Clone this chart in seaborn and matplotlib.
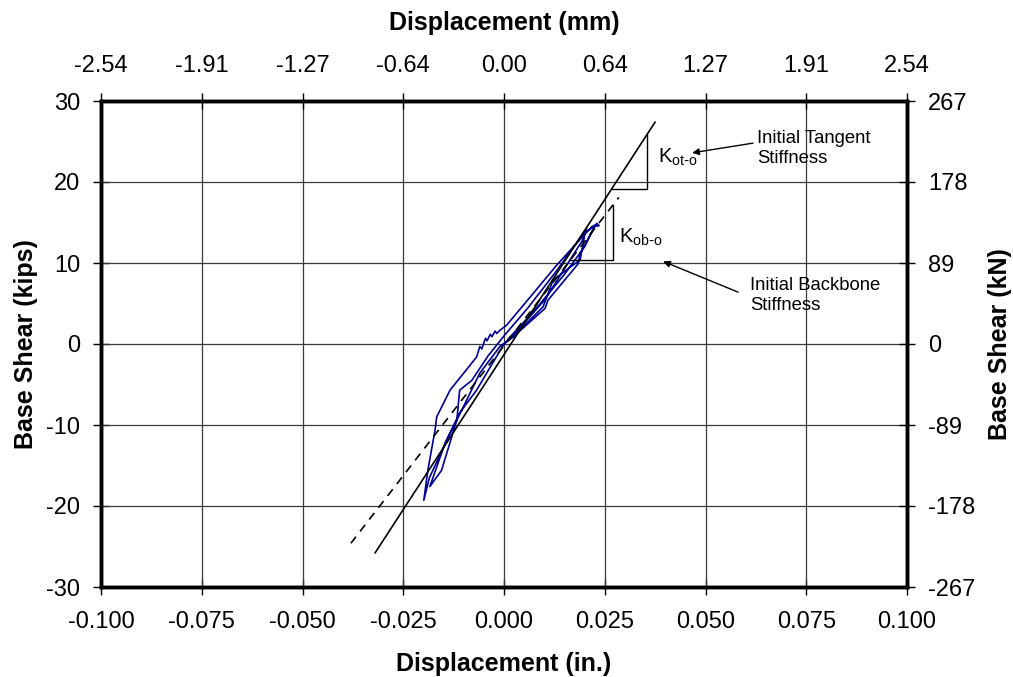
import numpy as np
import pandas as pd
import matplotlib
matplotlib.use("Agg")
import matplotlib.pyplot as plt
import seaborn as sns

# ---------------- data ----------------
x_ticks_in = [-0.100, -0.075, -0.050, -0.025, 0.000, 0.025, 0.050, 0.075, 0.100]
x_tick_labels_in = ["-0.100", "-0.075", "-0.050", "-0.025", "0.000", "0.025", "0.050", "0.075", "0.100"]
x_tick_labels_mm = ["-2.54", "-1.91", "-1.27", "-0.64", "0.00", "0.64", "1.27", "1.91", "2.54"]
y_ticks_kips = [-30, -20, -10, 0, 10, 20, 30]
y_tick_labels_kips = ["-30", "-20", "-10", "0", "10", "20", "30"]
y_tick_labels_kn = ["-267", "-178", "-89", "0", "89", "178", "267"]

# hysteresis loops (in., kips)
loop_disp = [
    0.0000, 0.0031, 0.0102, 0.0164, 0.0195, 0.0205,
    0.0180, 0.0130, 0.0060, 0.0000, -0.0040, -0.0080, -0.0110, -0.0117, -0.0155, -0.0184,
    -0.0146, -0.0110, -0.0068, -0.0030, 0.0000,
    0.0030, 0.0102, 0.0109, 0.0184, 0.0189, 0.0230, 0.0236, 0.0218,
    0.0131, 0.0065, 0.0007, -0.0010, -0.0018, -0.0022, -0.0030, -0.0034, -0.0042, -0.0046,
    -0.0055, -0.0060, -0.0068, -0.0100, -0.0134, -0.0167, -0.0171, -0.0189, -0.0199,
    -0.0185, -0.0142, -0.0117, -0.0060, -0.0010, 0.0023, 0.0097, 0.0122, 0.0189, 0.0201, 0.0226,
    0.0200, 0.0150, 0.0090, 0.0040, 0.0010,
]
loop_shear = [
    0.0, 1.5, 5.5, 10.4, 12.8, 14.3,
    12.5, 9.0, 4.5, 1.0, -1.5, -4.5, -5.7, -9.4, -15.6, -17.6,
    -12.2, -8.5, -5.7, -2.5, 0.0,
    1.2, 4.4, 5.4, 9.9, 11.2, 14.9, 14.6, 14.5,
    9.75, 5.8, 2.35, 1.7, 1.3, 1.6, 0.9, 1.2, 0.4, 0.7,
    -0.6, -0.3, -1.6, -3.6, -5.7, -9.0, -10.6, -15.6, -19.3,
    -16.5, -11.9, -9.4, -3.6, -0.3, 0.9, 4.6, 7.9, 10.4, 13.7, 14.7,
    12.0, 8.6, 5.0, 2.2, 0.6,
]

tangent_disp = [-0.032, 0.0375]
tangent_shear = [-25.8, 27.4]
backbone_disp = [-0.038, 0.0285]
backbone_shear = [-24.6, 18.1]
tan_tri_disp = [0.0267, 0.0355, 0.0355]
tan_tri_shear = [19.1, 19.1, 25.9]
bb_tri_disp = [0.0165, 0.027, 0.027]
bb_tri_shear = [10.4, 10.4, 17.1]

# ---------------- style ----------------
sns.set_theme(style="white")
plt.rcParams["font.family"] = ["Liberation Sans", "DejaVu Sans"]
plt.rcParams["text.color"] = "black"
plt.rcParams["axes.labelcolor"] = "black"
plt.rcParams["xtick.color"] = "black"
plt.rcParams["ytick.color"] = "black"

fig = plt.figure(figsize=(10.13, 6.77), dpi=100)
ax = fig.add_axes([101 / 1013, 90 / 677, 806 / 1013, 486 / 677])

grid_c = "#3a3a3a"
for xv in x_ticks_in[1:-1]:
    ax.axvline(xv, color=grid_c, lw=0.9, zorder=1)
for yv in y_ticks_kips[1:-1]:
    ax.axhline(yv, color=grid_c, lw=0.9, zorder=1)

loop_df = pd.DataFrame({"disp": loop_disp, "shear": loop_shear})
sns.lineplot(data=loop_df, x="disp", y="shear", sort=False, estimator=None,
             color="#00008f", lw=1.2, ax=ax, zorder=3)
sns.lineplot(x=tangent_disp, y=tangent_shear, sort=False, estimator=None,
             color="black", lw=1.2, ax=ax, zorder=4)
sns.lineplot(x=backbone_disp, y=backbone_shear, sort=False, estimator=None,
             color="black", lw=1.2, ax=ax, zorder=4, linestyle=(0, (5, 4)))
sns.lineplot(x=tan_tri_disp, y=tan_tri_shear, sort=False, estimator=None,
             color="black", lw=1.0, ax=ax, zorder=4)
sns.lineplot(x=bb_tri_disp, y=bb_tri_shear, sort=False, estimator=None,
             color="black", lw=1.0, ax=ax, zorder=4)

ax.set_xlim(-0.1, 0.1)
ax.set_ylim(-30, 30)
ax.set_xticks(x_ticks_in)
ax.set_xticklabels(x_tick_labels_in)
ax.set_yticks(y_ticks_kips)
ax.set_yticklabels(y_tick_labels_kips)

tick_fs = 17
lab_fs = 18
ax.tick_params(axis="both", direction="inout", length=12, width=1.0, color="black",
               labelsize=tick_fs, labelcolor="black")
ax.tick_params(axis="x", pad=11)
ax.tick_params(axis="y", pad=9)
ax.tick_params(bottom=True, left=True)
for s in ax.spines.values():
    s.set_linewidth(2.4)
    s.set_color("black")
    s.set_zorder(6)

ax.set_xlabel("Displacement (in.)", fontsize=lab_fs, fontweight="bold", labelpad=14, color="black")
ax.set_ylabel("Base Shear (kips)", fontsize=lab_fs, fontweight="bold", labelpad=6, color="black")

# top axis (mm)
axt = ax.twiny()
axt.set_xlim(ax.get_xlim())
axt.set_xticks(x_ticks_in)
axt.set_xticklabels(x_tick_labels_mm)
axt.tick_params(axis="x", direction="inout", length=12, width=1.0, color="black",
                labelsize=tick_fs, labelcolor="black", pad=11, top=True)
axt.set_xlabel("Displacement (mm)", fontsize=lab_fs, fontweight="bold", labelpad=18, color="black")
axt.grid(False)

# right axis (kN)
axr = ax.twinx()
axr.set_ylim(ax.get_ylim())
axr.set_yticks(y_ticks_kips)
axr.set_yticklabels(y_tick_labels_kn)
axr.tick_params(axis="y", direction="inout", length=12, width=1.0, color="black",
                labelsize=tick_fs, labelcolor="black", pad=9, right=True)
axr.set_ylabel("Base Shear (kN)", fontsize=lab_fs, fontweight="bold", labelpad=9, color="black")
axr.grid(False)
for a in (axt, axr):
    for s in a.spines.values():
        s.set_linewidth(2.4)
        s.set_color("black")

# annotations
ax.text(0.0382, 23.0, r"K$_{\mathregular{ot\text{-}o}}$", fontsize=14.5, va="center", ha="left",
        color="black", zorder=7)
ax.text(0.0285, 13.2, r"K$_{\mathregular{ob\text{-}o}}$", fontsize=14.5, va="center", ha="left",
        color="black", zorder=7)
ax.text(0.0628, 24.1, "Initial Tangent\nStiffness", fontsize=13.3, va="center", ha="left",
        linespacing=1.2, color="black", zorder=7)
ax.text(0.0610, 6.0, "Initial Backbone\nStiffness", fontsize=13.3, va="center", ha="left",
        linespacing=1.2, color="black", zorder=7)
arrow = dict(arrowstyle="-|>", color="black", lw=1.0, mutation_scale=10,
             shrinkA=0, shrinkB=0)
ax.annotate("", xy=(0.0467, 23.6), xytext=(0.0618, 24.8), arrowprops=arrow, zorder=7)
ax.annotate("", xy=(0.0395, 10.2), xytext=(0.0581, 6.4), arrowprops=arrow, zorder=7)

fig.savefig("out.png", dpi=100)
